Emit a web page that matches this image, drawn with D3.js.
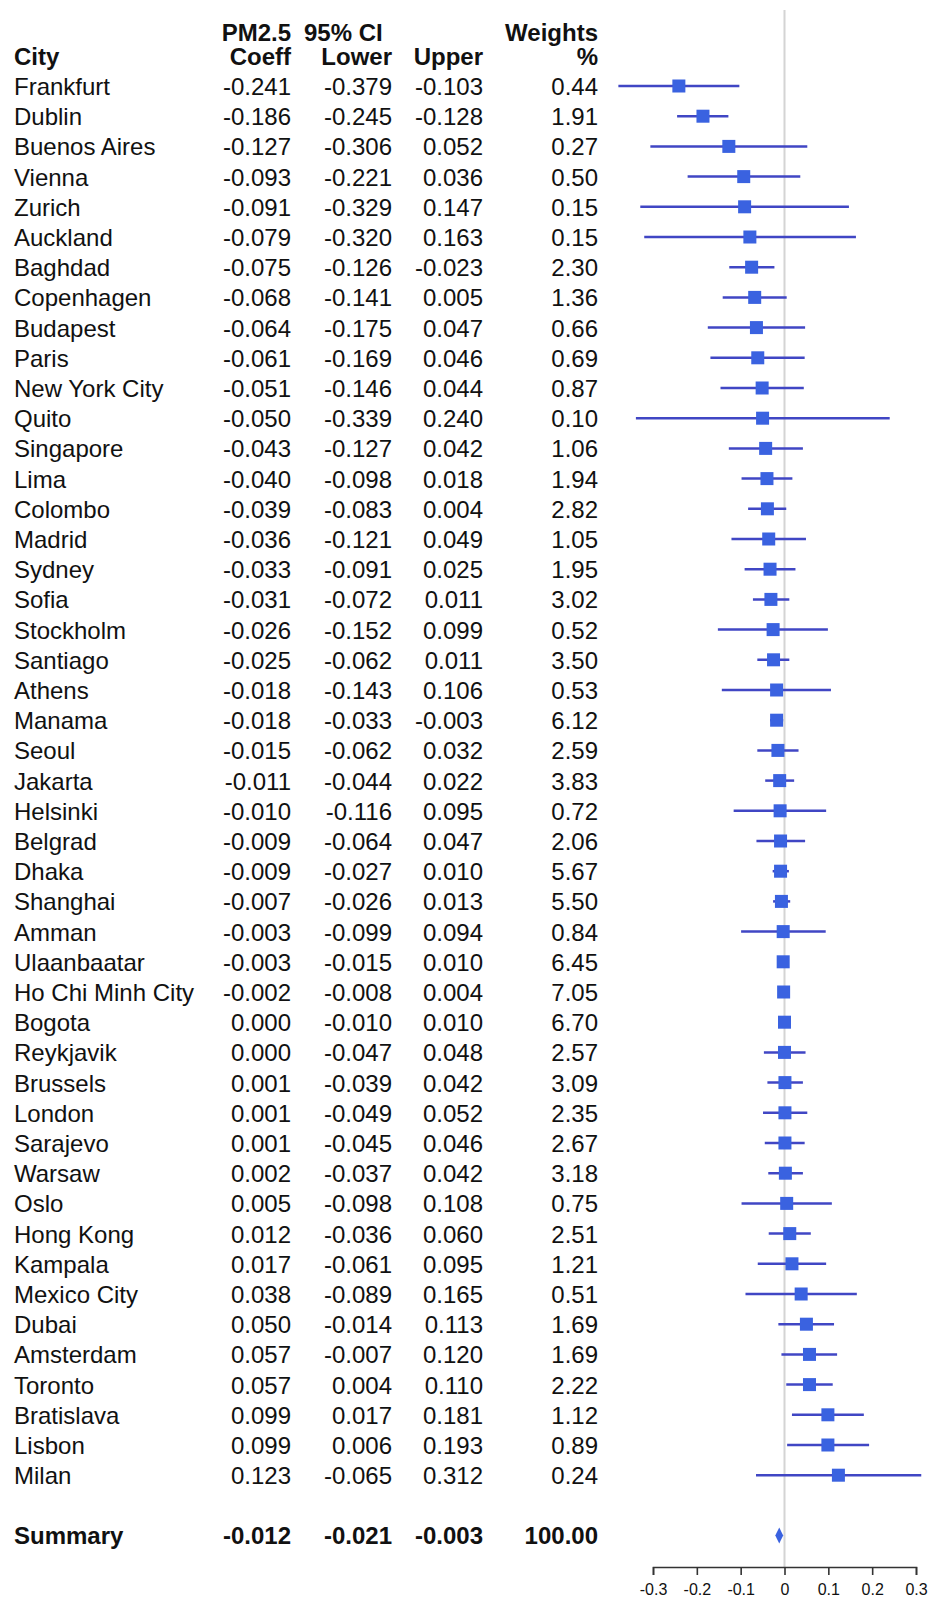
<!DOCTYPE html>
<html>
<head>
<meta charset="utf-8">
<script src="https://cdn.jsdelivr.net/npm/d3@7"></script>
<style>
  body { margin: 0; background: #fff; }
  svg { display: block; font-family: "Liberation Sans", Arial, sans-serif; }
</style>
</head>
<body>
<svg id="forest" width="928" height="1599"></svg>
<script>
// city rows
const cities = ["Frankfurt", "Dublin", "Buenos Aires", "Vienna", "Zurich", "Auckland", "Baghdad",
    "Copenhagen", "Budapest", "Paris", "New York City", "Quito", "Singapore", "Lima", "Colombo",
    "Madrid", "Sydney", "Sofia", "Stockholm", "Santiago", "Athens", "Manama", "Seoul", "Jakarta",
    "Helsinki", "Belgrad", "Dhaka", "Shanghai", "Amman", "Ulaanbaatar", "Ho Chi Minh City", "Bogota",
    "Reykjavik", "Brussels", "London", "Sarajevo", "Warsaw", "Oslo", "Hong Kong", "Kampala",
    "Mexico City", "Dubai", "Amsterdam", "Toronto", "Bratislava", "Lisbon", "Milan"];
const coeff = [-0.241, -0.186, -0.127, -0.093, -0.091, -0.079, -0.075, -0.068, -0.064, -0.061,
    -0.051, -0.050, -0.043, -0.040, -0.039, -0.036, -0.033, -0.031, -0.026, -0.025, -0.018, -0.018,
    -0.015, -0.011, -0.010, -0.009, -0.009, -0.007, -0.003, -0.003, -0.002, 0.000, 0.000, 0.001,
    0.001, 0.001, 0.002, 0.005, 0.012, 0.017, 0.038, 0.050, 0.057, 0.057, 0.099, 0.099, 0.123];
const lower = [-0.379, -0.245, -0.306, -0.221, -0.329, -0.320, -0.126, -0.141, -0.175, -0.169,
    -0.146, -0.339, -0.127, -0.098, -0.083, -0.121, -0.091, -0.072, -0.152, -0.062, -0.143, -0.033,
    -0.062, -0.044, -0.116, -0.064, -0.027, -0.026, -0.099, -0.015, -0.008, -0.010, -0.047, -0.039,
    -0.049, -0.045, -0.037, -0.098, -0.036, -0.061, -0.089, -0.014, -0.007, 0.004, 0.017, 0.006, -0.065];
const upper = [-0.103, -0.128, 0.052, 0.036, 0.147, 0.163, -0.023, 0.005, 0.047, 0.046, 0.044,
    0.240, 0.042, 0.018, 0.004, 0.049, 0.025, 0.011, 0.099, 0.011, 0.106, -0.003, 0.032, 0.022,
    0.095, 0.047, 0.010, 0.013, 0.094, 0.010, 0.004, 0.010, 0.048, 0.042, 0.052, 0.046, 0.042,
    0.108, 0.060, 0.095, 0.165, 0.113, 0.120, 0.110, 0.181, 0.193, 0.312];
const weights = ["0.44", "1.91", "0.27", "0.50", "0.15", "0.15", "2.30", "1.36", "0.66", "0.69",
    "0.87", "0.10", "1.06", "1.94", "2.82", "1.05", "1.95", "3.02", "0.52", "3.50", "0.53", "6.12",
    "2.59", "3.83", "0.72", "2.06", "5.67", "5.50", "0.84", "6.45", "7.05", "6.70", "2.57", "3.09",
    "2.35", "2.67", "3.18", "0.75", "2.51", "1.21", "0.51", "1.69", "1.69", "2.22", "1.12", "0.89", "0.24"];

const summary = {name: "Summary", coeff: -0.012, lower: -0.021, upper: -0.003, weight: "100.00"};
const axisTicks = [-0.3, -0.2, -0.1, 0, 0.1, 0.2, 0.3];
const axisLabels = ["-0.3", "-0.2", "-0.1", "0", "0.1", "0.2", "0.3"];

let svg = d3.select("#forest");
// plain hyphen for negatives, like the original table
let fmt = function (v) { return v.toFixed(3).replace("-0.000", "0.000"); };

let x = d3.scaleLinear().domain([-0.3, 0.3]).range([653, 916]);
// row index -> y centre, summary sits two rows below the last city
let y = d3.scaleLinear().domain([0, 48]).range([86, 86 + 48 * 30.2]);
let summaryRow = cities.length + 1;

let rows = cities.map(function (c, i) {
    return {name: c, coeff: coeff[i], lower: lower[i], upper: upper[i], weight: weights[i], i: i};
});

// column right edges for the table
let cols = {coeff: 291, lower: 392, upper: 483, weight: 598};

//header
let head = svg.append("g")
    .attr("font-weight", "bold")
    .attr("font-size", "24px")
    .attr("fill", "#111");
head.append("text").attr("x", cols.coeff).attr("y", 41).attr("text-anchor", "end").text("PM2.5");
head.append("text").attr("x", 304).attr("y", 41).text("95% CI");
head.append("text").attr("x", cols.weight).attr("y", 41).attr("text-anchor", "end").text("Weights");
head.append("text").attr("x", 14).attr("y", 65).text("City");
head.append("text").attr("x", cols.coeff).attr("y", 65).attr("text-anchor", "end").text("Coeff");
head.append("text").attr("x", cols.lower).attr("y", 65).attr("text-anchor", "end").text("Lower");
head.append("text").attr("x", cols.upper).attr("y", 65).attr("text-anchor", "end").text("Upper");
head.append("text").attr("x", cols.weight).attr("y", 65).attr("text-anchor", "end").text("%");

//table rows
let table = svg.append("g")
    .attr("font-size", "24px")
    .attr("fill", "#111");
let rowG = table.selectAll("g.row")
    .data(rows)
    .enter()
    .append("g")
    .attr("class", "row")
    .attr("transform", function (d) { return "translate(0," + (y(d.i) + 9) + ")"; });
rowG.append("text").attr("x", 14).text(function (d) { return d.name; });
rowG.append("text").attr("x", cols.coeff).attr("text-anchor", "end").text(function (d) { return fmt(d.coeff); });
rowG.append("text").attr("x", cols.lower).attr("text-anchor", "end").text(function (d) { return fmt(d.lower); });
rowG.append("text").attr("x", cols.upper).attr("text-anchor", "end").text(function (d) { return fmt(d.upper); });
rowG.append("text").attr("x", cols.weight).attr("text-anchor", "end").text(function (d) { return d.weight; });

//summary row
let sumG = table.append("g")
    .attr("font-weight", "bold")
    .attr("transform", "translate(0," + (y(summaryRow) + 8) + ")");
sumG.append("text").attr("x", 14).text(summary.name);
sumG.append("text").attr("x", cols.coeff).attr("text-anchor", "end").text(fmt(summary.coeff));
sumG.append("text").attr("x", cols.lower).attr("text-anchor", "end").text(fmt(summary.lower));
sumG.append("text").attr("x", cols.upper).attr("text-anchor", "end").text(fmt(summary.upper));
sumG.append("text").attr("x", cols.weight).attr("text-anchor", "end").text(summary.weight);

//axis
let axisY = 1567;
svg.append("line")
    .attr("x1", x(0)).attr("x2", x(0))
    .attr("y1", 10).attr("y2", axisY)
    .attr("stroke", "#d4d4d4")
    .attr("stroke-width", 2);

let axisG = svg.append("g")
    .attr("transform", "translate(0," + axisY + ")")
    .call(d3.axisBottom(x)
        .tickValues(axisTicks)
        .tickSize(8)
        .tickPadding(9)
        .tickFormat(function (d, i) { return axisLabels[i]; }));
axisG.select(".domain").attr("stroke", "#333").attr("stroke-width", 1.6);
axisG.selectAll(".tick line").attr("stroke", "#333").attr("stroke-width", 1.6);
axisG.selectAll(".tick text")
    .attr("font-family", "'Liberation Sans', Arial, sans-serif")
    .attr("font-size", "16px")
    .attr("fill", "#111");

//CI lines
let plot = svg.append("g");
plot.selectAll("line.ci")
    .data(rows)
    .enter()
    .append("line")
    .attr("class", "ci")
    .attr("x1", function (d) { return x(d.lower); })
    .attr("x2", function (d) { return x(d.upper); })
    .attr("y1", function (d) { return y(d.i); })
    .attr("y2", function (d) { return y(d.i); })
    .attr("stroke", "#4046c4")
    .attr("stroke-width", 2.5);

//point estimates
let box = 13;
plot.selectAll("rect.est")
    .data(rows)
    .enter()
    .append("rect")
    .attr("class", "est")
    .attr("x", function (d) { return x(d.coeff) - box / 2; })
    .attr("y", function (d) { return y(d.i) - box / 2; })
    .attr("width", box)
    .attr("height", box)
    .attr("fill", "#3a62e0");

//summary diamond
let sy = y(summaryRow);
plot.append("polygon")
    .attr("points", [
        [x(summary.lower), sy],
        [x(summary.coeff), sy - 8],
        [x(summary.upper), sy],
        [x(summary.coeff), sy + 8]
    ].map(function (p) { return p.join(","); }).join(" "))
    .attr("fill", "#3a62e0");
</script>
</body>
</html>
